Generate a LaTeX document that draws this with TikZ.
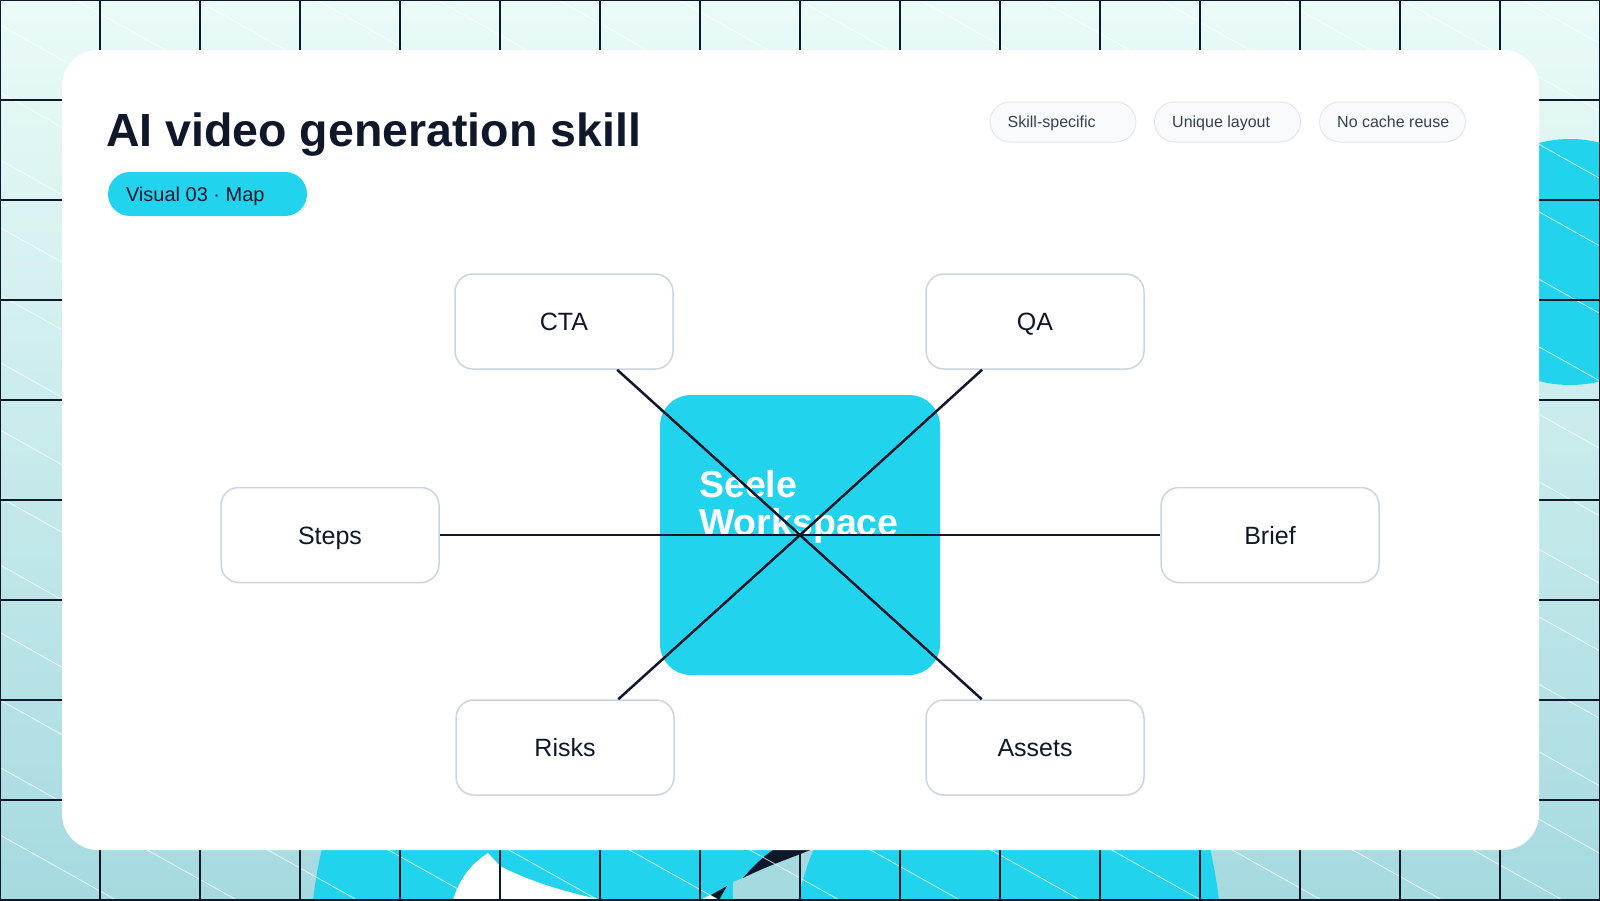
\documentclass[tikz,border=0pt]{standalone}
\usepackage{fontspec}
\setmainfont{Liberation Sans}
\definecolor{cy}{HTML}{22D3EE}
\definecolor{navy}{HTML}{0F172A}
\definecolor{nodeborder}{HTML}{CBD5E1}
\definecolor{chipfill}{HTML}{F8FAFC}
\definecolor{chipborder}{HTML}{E2E8F0}
\definecolor{chiptext}{HTML}{334155}
\definecolor{bgtop}{HTML}{EAFBF7}
\definecolor{bgbot}{HTML}{A5DAE0}
\begin{document}
\begin{tikzpicture}[x=1pt,y=-1pt,
  conn/.style={draw=navy, line width=2.5pt},
  mapbox/.style={rectangle, rounded corners=18pt, draw=nodeborder, line width=1.5pt, fill=white,
    minimum width=218pt, minimum height=95pt, inner sep=0pt, text height=18pt, text depth=0pt,
    font=\fontsize{25}{30}\selectfont, text=navy},
  chip/.style={rectangle, rounded corners=20pt, draw=chipborder, line width=1pt, fill=chipfill,
    minimum height=40pt, minimum width=146pt, inner sep=0pt},
  chiptxt/.style={anchor=west, inner sep=0pt, text height=11.5pt, text depth=0pt,
    font=\fontsize{16}{19}\selectfont, text=chiptext},
  pill/.style={rectangle, rounded corners=22pt, fill=cy, minimum height=44pt, minimum width=199pt, inner sep=0pt},
  pilltxt/.style={anchor=west, inner sep=0pt, text height=14.3pt, text depth=0pt,
    font=\fontsize{20}{24}\selectfont, text=navy},
  gridline/.style={navy, line width=1.2pt},
  diagline/.style={white, line width=0.8pt, opacity=0.75},
  centertxt/.style={anchor=base west, inner sep=0pt, text=white, font=\fontsize{37.5}{38}\selectfont\bfseries},
]
\useasboundingbox (0,0) rectangle (1600,900);
% background
\shade[top color=bgtop, bottom color=bgbot] (0,0) rectangle (1600,900);
% decorative blobs
\fill[cy] (1570,262) circle (123);
\fill[cy] (766,953) circle (456);
\fill[bgbot] (733,900) -- (733,882) -- (743,878) -- (815,846) .. controls (806,866) and (801,885) .. (798,900) -- cycle;
\fill[white] (453,900) .. controls (460,876) and (474,862) .. (488,853) -- (500,866) .. controls (530,882) and (570,893) .. (602,900) -- cycle;
\fill[navy] (743,878) .. controls (755,864) and (766,854) .. (779,846) -- (820,846) .. controls (792,858) and (766,866) .. (743,878) -- cycle;
\fill[navy] (727,886) -- (709,896) -- (719,900) -- cycle;
\fill[white] (700,900) -- (710,895) -- (718,900) -- cycle;
% overlay lines
\begin{scope}
\clip (0,0) rectangle (1600,900);
\foreach \k in {-13,...,13} \draw[diagline] (0,{25+67.5*\k}) -- (1600,{921+67.5*\k});
\foreach \x in {0,100,...,1600} \draw[gridline] (\x,0) -- (\x,900);
\foreach \y in {0,100,...,900} \draw[gridline] (0,\y) -- (1600,\y);
\end{scope}
% card
\fill[white, rounded corners=36pt] (62,50) rectangle (1539,850);
% header
\node[anchor=base west, inner sep=0pt, text=navy, font=\fontsize{46.5}{52}\selectfont\bfseries] (title) at (106,146) {AI video generation skill};
\node[pill] (tag) at (207.5,194) {};
\node[pilltxt] (tagtxt) at ([xshift=18pt]tag.west) {Visual 03 · Map};
\node[chip] (chip1) at (1063,122) {};
\node[chip] (chip2) at (1227.5,122) {};
\node[chip] (chip3) at (1392.5,122) {};
\node[chiptxt] (chip1txt) at ([xshift=18pt]chip1.west) {Skill-specific};
\node[chiptxt] (chip2txt) at ([xshift=18pt]chip2.west) {Unique layout};
\node[chiptxt] (chip3txt) at ([xshift=18pt]chip3.west) {No cache reuse};
% map
\node[rectangle, rounded corners=31pt, fill=cy, minimum width=280pt, minimum height=280pt] (c) at (800,535) {};
\node[centertxt] (c1) at (699,497) {Seele};
\node[centertxt] (c2) at (699,535) {Workspace};
\node[mapbox] (cta) at (564,321.5) {CTA};
\node[mapbox] (qa) at (1035,321.5) {QA};
\node[mapbox] (steps) at (330,535) {Steps};
\node[mapbox] (brief) at (1270,535) {Brief};
\node[mapbox] (risks) at (565,747.5) {Risks};
\node[mapbox] (assets) at (1035,747.5) {Assets};
\draw[conn] (c.center) -- (cta);
\draw[conn] (c.center) -- (qa);
\draw[conn] (c.center) -- (steps);
\draw[conn] (c.center) -- (brief);
\draw[conn] (c.center) -- (risks);
\draw[conn] (c.center) -- (assets);
\end{tikzpicture}
\end{document}
